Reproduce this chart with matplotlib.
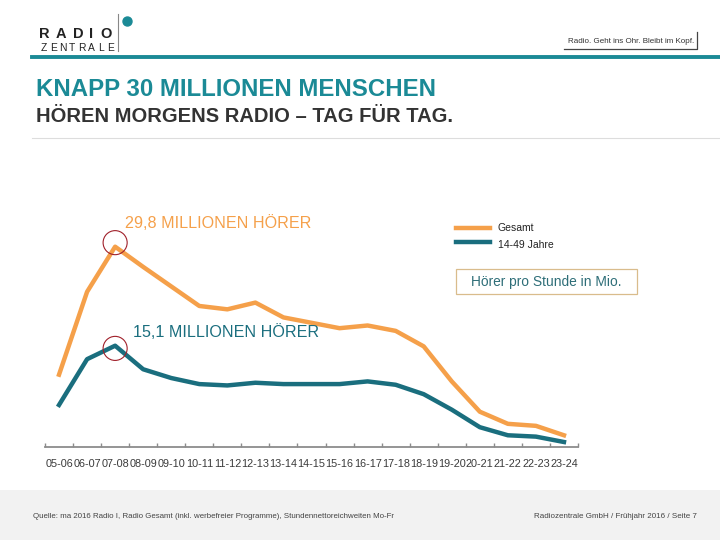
import matplotlib.pyplot as plt
from matplotlib.patches import Rectangle, Ellipse
from matplotlib.lines import Line2D

# ===============================
# Data (Hörer pro Stunde in Mio.)
# ===============================
hours = ["05-06", "06-07", "07-08", "08-09", "09-10", "10-11", "11-12", "12-13",
         "13-14", "14-15", "15-16", "16-17", "17-18", "18-19", "19-20", "20-21",
         "21-22", "22-23", "23-24"]
gesamt = [10.8, 23.1, 29.8, 26.8, 23.9, 21.0, 20.5, 21.5, 19.3, 18.5, 17.7,
          18.1, 17.3, 15.0, 9.8, 5.3, 3.5, 3.2, 1.8]
jung = [6.3, 13.1, 15.1, 11.6, 10.3, 9.4, 9.2, 9.6, 9.4, 9.4, 9.4,
        9.8, 9.3, 7.9, 5.6, 3.0, 1.8, 1.6, 0.8]
series_names = ["Gesamt", "14-49 Jahre"]

ORANGE = "#F5A04A"
TEAL = "#1A6E7E"
TITLE_TEAL = "#1B8A96"
W, H = 720, 540

plt.rcParams['font.family'] = ['Liberation Sans', 'DejaVu Sans']


def fx(x):
    return x / W


def fy(y):
    return 1 - y / H


fig = plt.figure(figsize=(7.2, 5.4), dpi=100)
fig.patch.set_facecolor("white")

# ===============================
# Header / logo
# ===============================
for ch, cx in zip("RADIO", [44, 61, 78, 91.5, 106.5]):
    fig.text(fx(cx), fy(34), ch, fontsize=10.5, fontweight="bold", color="#222222",
             va="center", ha="center")
for i, ch in enumerate("ZENTRALE"):
    fig.text(fx(43.5 + i * 9.6), fy(47.5), ch, fontsize=7.4, color="#222222",
             va="center", ha="center")
fig.add_artist(Line2D([fx(118), fx(118)], [fy(14), fy(51)], color="#888888", lw=0.8))
fig.add_artist(Ellipse((fx(127.5), fy(21.5)), 9 / W, 9 / H, transform=fig.transFigure,
                       color=TITLE_TEAL))

fig.text(fx(694), fy(41.5), "Radio. Geht ins Ohr. Bleibt im Kopf.", fontsize=5.8,
         color="#333333", va="center", ha="right")
fig.add_artist(Line2D([fx(564), fx(697), fx(697)], [fy(48.5), fy(48.5), fy(32)],
                      color="#444444", lw=0.9))

fig.add_artist(Line2D([fx(32), 1], [fy(57), fy(57)], color=TITLE_TEAL, lw=2.8))

fig.text(fx(36), fy(90), "KNAPP 30 MILLIONEN MENSCHEN", fontsize=17.3, fontweight="bold",
         color=TITLE_TEAL, va="center", ha="left")
fig.text(fx(36), fy(116), "HÖREN MORGENS RADIO – TAG FÜR TAG.", fontsize=14.5,
         fontweight="bold", color="#333333", va="center", ha="left")
fig.add_artist(Line2D([fx(32), 1], [fy(138), fy(138)], color="#DDDDDD", lw=0.8))

# ===============================
# Chart
# ===============================
ax_top, ax_bottom = 200, 447.4
ax = fig.add_axes([fx(45), fy(ax_bottom), fx(578) - fx(45), (ax_bottom - ax_top) / H])
xs = list(range(len(hours)))
ax.plot(xs, gesamt, color=ORANGE, lw=3.2, solid_joinstyle="round")
ax.plot(xs, jung, color=TEAL, lw=3.2, solid_joinstyle="round")
ax.set_xlim(-0.5, len(hours) - 0.5)
ax.set_ylim(0, (ax_bottom - ax_top) / 6.735)

for s in ["top", "right", "left"]:
    ax.spines[s].set_visible(False)
ax.spines["bottom"].set_color("#8C8C8C")
ax.spines["bottom"].set_linewidth(1.3)
ax.set_yticks([])
ax.set_xticks([i - 0.5 for i in range(len(hours) + 1)])
ax.set_xticklabels([])
ax.set_xticks(xs, minor=True)
ax.set_xticklabels(hours, minor=True, fontsize=7.8, color="#3A3A3A")
ax.tick_params(axis="x", which="major", direction="in", length=3, color="#8C8C8C", width=1)
ax.tick_params(axis="x", which="minor", length=0, pad=8)
ax.patch.set_alpha(0)

# peak circles
peak = gesamt.index(max(gesamt))
ax.scatter([peak], [max(gesamt) + 0.6], s=300, facecolors="none", edgecolors="#A0202A",
           linewidths=0.8, clip_on=False, zorder=5)
ax.scatter([peak], [max(jung) - 0.4], s=300, facecolors="none", edgecolors="#A0202A",
           linewidths=0.8, clip_on=False, zorder=5)

fig.text(fx(125), fy(223), "29,8 MILLIONEN HÖRER", fontsize=11.6, color=ORANGE,
         va="center", ha="left")
fig.text(fx(133), fy(332), "15,1 MILLIONEN HÖRER", fontsize=11.6, color=TEAL,
         va="center", ha="left")

# legend
fig.add_artist(Line2D([fx(456), fx(490)], [fy(228), fy(228)], color=ORANGE, lw=3.2))
fig.add_artist(Line2D([fx(456), fx(490)], [fy(242), fy(242)], color=TEAL, lw=3.2))
fig.text(fx(498), fy(228), series_names[0], fontsize=7.5, color="#222222", va="center")
fig.text(fx(498), fy(245), series_names[1], fontsize=7.5, color="#222222", va="center")

fig.add_artist(Rectangle((fx(456), fy(294)), fx(637) - fx(456), (294 - 269) / H,
                         transform=fig.transFigure, facecolor="none",
                         edgecolor="#D9BC8C", lw=0.9))
fig.text(fx(546.5), fy(282), "Hörer pro Stunde in Mio.", fontsize=9.9, color="#2E6E78",
         va="center", ha="center")

# ===============================
# Footer
# ===============================
fig.add_artist(Rectangle((0, 0), 1, (540 - 490) / H, transform=fig.transFigure,
                         facecolor="#F2F2F2", edgecolor="none"))
fig.text(fx(33), fy(517), "Quelle: ma 2016 Radio I, Radio Gesamt (inkl. werbefreier "
         "Programme), Stundennettoreichweiten Mo-Fr", fontsize=5.7, color="#444444",
         va="center", ha="left")
fig.text(fx(697), fy(517), "Radiozentrale GmbH / Frühjahr 2016 / Seite 7", fontsize=5.75,
         color="#444444", va="center", ha="right")

fig.savefig("out.png", dpi=100)
